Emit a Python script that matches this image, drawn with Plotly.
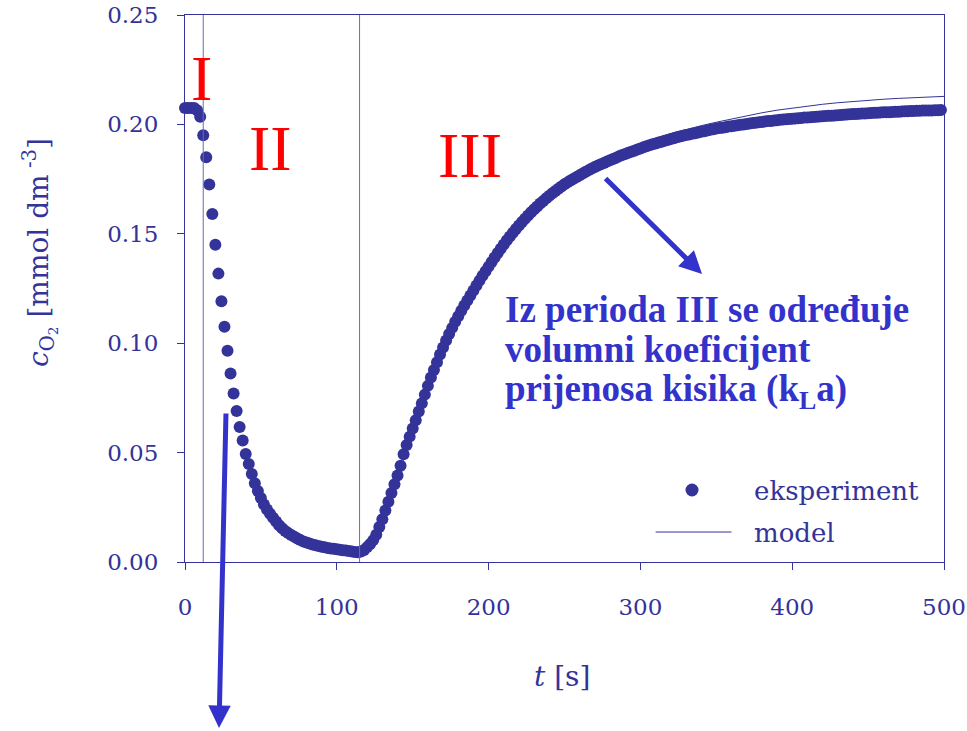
import plotly.graph_objects as go

# ---------------- data ----------------
t_exp = list(range(0, 500, 2))  # sampling grid, every 2 s
c_exp = [
    0.2075, 0.2075, 0.2075, 0.2075, 0.2065, 0.2035, 0.1950, 0.1850, 0.1725, 0.1590,
    0.1450, 0.1318, 0.1192, 0.1075, 0.0965, 0.0862, 0.0770, 0.0690, 0.0617, 0.0555,
    0.0494, 0.0448, 0.0402, 0.0360, 0.0324, 0.0292, 0.0263, 0.0240, 0.0220, 0.0202,
    0.0185, 0.0168, 0.0154, 0.0142, 0.0132, 0.0123, 0.0115, 0.0107, 0.0100, 0.0094,
    0.0089, 0.0084, 0.0080, 0.0076, 0.0073, 0.0070, 0.0067, 0.0064, 0.0062, 0.0060,
    0.0058, 0.0056, 0.0054, 0.0052, 0.0050, 0.0048, 0.0046, 0.0045, 0.0048, 0.0055,
    0.0068, 0.0082, 0.0100, 0.0125, 0.0160, 0.0195, 0.0235, 0.0275, 0.0315, 0.0355,
    0.0395, 0.0440, 0.0492, 0.0535, 0.0573, 0.0610, 0.0648, 0.0688, 0.0725, 0.0765,
    0.0805, 0.0843, 0.0878, 0.0913, 0.0948, 0.0980, 0.1012, 0.1042, 0.1070, 0.1098,
    0.1123, 0.1148, 0.1172, 0.1195, 0.1218, 0.1241, 0.1264, 0.1286, 0.1308, 0.1329,
    0.1350, 0.1371, 0.1392, 0.1412, 0.1432, 0.1451, 0.1470, 0.1488, 0.1505, 0.1522,
    0.1538, 0.1554, 0.1569, 0.1584, 0.1598, 0.1612, 0.1625, 0.1638, 0.1650, 0.1662,
    0.1674, 0.1685, 0.1696, 0.1706, 0.1716, 0.1726, 0.1735, 0.1744, 0.1752, 0.1760,
    0.1768, 0.1776, 0.1784, 0.1791, 0.1798, 0.1805, 0.1812, 0.1818, 0.1824, 0.1830,
    0.1836, 0.1842, 0.1848, 0.1854, 0.1860, 0.1865, 0.1870, 0.1875, 0.1880, 0.1885,
    0.1890, 0.1895, 0.1900, 0.1905, 0.1909, 0.1913, 0.1917, 0.1921, 0.1925, 0.1929,
    0.1933, 0.1937, 0.1941, 0.1945, 0.1948, 0.1951, 0.1954, 0.1957, 0.1960, 0.1963,
    0.1966, 0.1969, 0.1972, 0.1975, 0.1978, 0.1981, 0.1983, 0.1985, 0.1987, 0.1990,
    0.1992, 0.1994, 0.1996, 0.1998, 0.2000, 0.2002, 0.2004, 0.2006, 0.2008, 0.2010,
    0.2011, 0.2013, 0.2015, 0.2016, 0.2018, 0.2019, 0.2021, 0.2022, 0.2023, 0.2025,
    0.2026, 0.2027, 0.2028, 0.2029, 0.2031, 0.2032, 0.2033, 0.2034, 0.2035, 0.2036,
    0.2037, 0.2038, 0.2039, 0.2040, 0.2041, 0.2042, 0.2043, 0.2044, 0.2045, 0.2046,
    0.2047, 0.2048, 0.2049, 0.2050, 0.2050, 0.2051, 0.2052, 0.2053, 0.2053, 0.2054,
    0.2055, 0.2056, 0.2056, 0.2057, 0.2058, 0.2058, 0.2059, 0.2060, 0.2060, 0.2061,
    0.2061, 0.2062, 0.2062, 0.2063, 0.2063, 0.2064, 0.2064, 0.2065, 0.2065, 0.2066,
]

t_model = [115, 120, 130, 140, 150, 160, 170, 180, 190, 200,
           210, 220, 230, 240, 250, 260, 270, 280, 290, 300,
           310, 320, 330, 340, 350, 360, 370, 380, 390, 400,
           410, 420, 430, 440, 450, 460, 470, 480, 490, 500]
c_model = [0.0045, 0.0062, 0.0185, 0.0385, 0.0600, 0.0800, 0.0975, 0.1118, 0.1235, 0.1335,
           0.1430, 0.1515, 0.1590, 0.1655, 0.1712, 0.1762, 0.1806, 0.1845, 0.1880, 0.1910,
           0.1936, 0.1958, 0.1977, 0.1994, 0.2010, 0.2025, 0.2040, 0.2053, 0.2065, 0.2075,
           0.2084, 0.2092, 0.2099, 0.2105, 0.2110, 0.2115, 0.2119, 0.2122, 0.2125, 0.2128]

phase_bounds = [12, 115]
phase_labels = ["I", "II", "III"]
x_ticks = [0, 100, 200, 300, 400, 500]
y_ticks = [0.00, 0.05, 0.10, 0.15, 0.20, 0.25]
legend_labels = ["eksperiment", "model"]
note_lines = ["<b>Iz perioda III se određuje</b>",
              "<b>volumni koeficijent</b>",
              "<b>prijenosa kisika (k<sub>L</sub>a)</b>"]

# ---------------- styling ----------------
NAVY = "#333399"
BLUE = "#3333cc"
RED = "#ff0000"
TICK_FONT = dict(family="DejaVu Serif", size=23, color=NAVY)

fig = go.Figure()
fig.add_trace(go.Scatter(
    x=t_exp, y=c_exp, mode="markers", name=legend_labels[0],
    marker=dict(size=12, color=NAVY, line=dict(width=0)),
    cliponaxis=False, showlegend=False))
fig.add_trace(go.Scatter(
    x=t_model, y=c_model, mode="lines", name=legend_labels[1],
    line=dict(color=NAVY, width=1), showlegend=False))

shapes = []
for xb in phase_bounds:
    shapes.append(dict(type="line", xref="x", yref="paper", x0=xb, x1=xb, y0=0, y1=1,
                       line=dict(color="#6a6ab5", width=1)))
# manual legend
shapes.append(dict(type="circle", xref="x", yref="y", xsizemode="pixel", ysizemode="pixel",
                   xanchor=334, yanchor=0.0329, x0=-6.5, x1=6.5, y0=-6.5, y1=6.5,
                   fillcolor=NAVY, line=dict(width=0)))
shapes.append(dict(type="line", xref="x", yref="y", x0=310, x1=360, y0=0.0137, y1=0.0137,
                   line=dict(color=NAVY, width=1)))

annotations = []
# phase labels
for lab, (xx, yy) in zip(phase_labels, [(11.0, 0.2212), (56.0, 0.1890), (187.7, 0.1860)]):
    annotations.append(dict(text=lab, x=xx, y=yy, xref="x", yref="y", showarrow=False,
                            xanchor="center", yanchor="middle",
                            font=dict(family="Liberation Serif", size=64, color=RED)))
# legend texts
annotations.append(dict(text=legend_labels[0], x=373.5, y=0.0325, xref="x", yref="y",
                        showarrow=False, xanchor="left", yanchor="middle",
                        font=dict(family="DejaVu Serif", size=26, color=NAVY)))
annotations.append(dict(text=legend_labels[1], x=373.5, y=0.0133, xref="x", yref="y",
                        showarrow=False, xanchor="left", yanchor="middle",
                        font=dict(family="DejaVu Serif", size=26, color=NAVY)))
# note text
for line, yy in zip(note_lines, [0.1156, 0.0969, 0.0777]):
    annotations.append(dict(text=line, x=209.6, y=yy, xref="x", yref="y", showarrow=False,
                            xanchor="left", yanchor="middle",
                            font=dict(family="Liberation Serif", size=37, color=BLUE)))
# arrows
annotations.append(dict(text="", x=0.0448, y=-0.3035, xref="paper", yref="paper",
                        ax=7, ay=-316, axref="pixel", ayref="pixel", showarrow=True,
                        arrowhead=2, arrowsize=0.9, arrowwidth=5, arrowcolor=BLUE))
annotations.append(dict(text="", x=0.6812, y=0.5265, xref="paper", yref="paper",
                        ax=-98, ay=-97, axref="pixel", ayref="pixel", showarrow=True,
                        arrowhead=2, arrowsize=0.9, arrowwidth=5, arrowcolor=BLUE))
# axis titles
annotations.append(dict(text="<i>c</i><sub>O<sub>2</sub></sub> [mmol dm<sup> -3</sup>]",
                        x=-0.191, y=0.565, xref="paper", yref="paper", showarrow=False,
                        textangle=-90, xanchor="center", yanchor="middle",
                        font=dict(family="DejaVu Serif", size=28, color=NAVY)))
annotations.append(dict(text="<i>t</i> [s]", x=0.4967, y=-0.210, xref="paper", yref="paper",
                        showarrow=False, xanchor="center", yanchor="middle",
                        font=dict(family="DejaVu Serif", size=28, color=NAVY)))

fig.update_layout(
    width=967, height=731,
    margin=dict(l=185, r=23, t=15, b=169, autoexpand=False),
    paper_bgcolor="white", plot_bgcolor="white",
    showlegend=False,
    shapes=shapes, annotations=annotations,
    xaxis=dict(range=[0, 500], tickvals=x_ticks, ticks="outside", ticklen=7,
               tickcolor=NAVY, tickwidth=1, showline=True, linecolor=NAVY, linewidth=1,
               mirror=True, showgrid=False, zeroline=False, tickfont=TICK_FONT,
               ticklabelstandoff=17, automargin=False, ticklabeloverflow="allow"),
    yaxis=dict(range=[0, 0.25], tickvals=y_ticks, tickformat=".2f", ticks="outside",
               ticklen=7, tickcolor=NAVY, tickwidth=1, showline=True, linecolor=NAVY,
               linewidth=1, mirror=True, showgrid=False, zeroline=False,
               tickfont=TICK_FONT, ticklabelstandoff=14, automargin=False,
               ticklabeloverflow="allow"),
)

fig.write_html("out.html", config={"displayModeBar": False},
               post_script="document.body.style.margin='0';document.body.style.overflow='hidden';")
